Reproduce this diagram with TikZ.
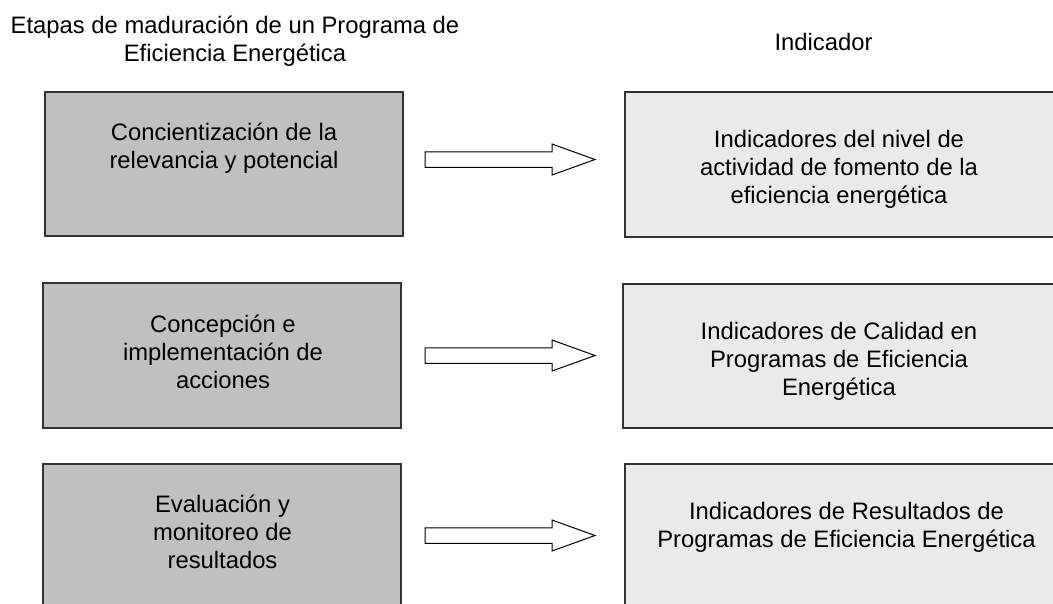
\documentclass[tikz,border=0pt]{standalone}
\usepackage{fontspec}
\setmainfont{Liberation Sans}
\usetikzlibrary{calc}
\definecolor{lfill}{HTML}{C0C0C0}
\definecolor{rfill}{HTML}{EAEAEA}
\definecolor{edge}{HTML}{333333}
\newcommand{\blockarr}[1]{%
  \draw[blockarrow] (#1) ++(0,-7.75) -- ++(127,0) -- ++(0,-7.75) -- ++(43,15.5)
    -- ++(-43,15.5) -- ++(0,-7.75) -- ++(-127,0) -- cycle;}
\begin{document}
\begin{tikzpicture}[x=1pt,y=-1pt,
  lbox/.style={draw=edge, line width=1.1pt, fill=lfill, rectangle, inner sep=0pt},
  rbox/.style={draw=edge, line width=1.1pt, fill=rfill, rectangle, inner sep=0pt},
  lbl/.style={align=center, inner sep=0pt, anchor=base, font=\fontsize{23.8}{28}\selectfont},
  blockarrow/.style={draw=black, line width=1pt, fill=white, line join=miter}]
\useasboundingbox (0,0) rectangle (1053,603);
\clip (0,0) rectangle (1053,603);
\fill[white] (0,0) rectangle (1053,603);
% titles (anchor base = baseline of last line)
\node[lbl] (t1) at (235,61) {Etapas de maduración de un Programa de\\Eficiencia Energética};
\node[lbl] (t2) at (823.5,50.5) {Indicador};
% left boxes
\node[lbox, minimum width=358pt, minimum height=144pt] (L1) at (224,164) {};
\node[lbox, minimum width=358pt, minimum height=145pt] (L2) at (222,355.5) {};
\node[lbox, minimum width=358pt, minimum height=176pt] (L3) at (222,552) {};
% right boxes
\node[rbox, minimum width=445pt, minimum height=145pt] (R1) at (847.5,164.5) {};
\node[rbox, minimum width=447pt, minimum height=144pt] (R2) at (846.5,356) {};
\node[rbox, minimum width=445pt, minimum height=176pt] (R3) at (847.5,552) {};
% texts
\node[lbl] (L1t) at (224,168) {Concientización de la\\relevancia y potencial};
\node[lbl] (L2t) at (223,388) {Concepción e\\implementación de\\acciones};
\node[lbl] (L3t) at (222.5,568) {Evaluación y\\monitoreo de\\resultados};
\node[lbl] (R1t) at (839,203) {Indicadores del nivel de\\actividad de fomento de la\\eficiencia energética};
\node[lbl] (R2t) at (839,395) {Indicadores de Calidad en\\Programas de Eficiencia\\Energética};
\node[lbl] (R3t) at (846.5,547) {Indicadores de Resultados de\\Programas de Eficiencia Energética};
% arrows
\coordinate (a1) at (425,159.5);
\coordinate (a2) at (425,355.5);
\coordinate (a3) at (425,535.5);
\blockarr{a1}
\blockarr{a2}
\blockarr{a3}
\end{tikzpicture}
\end{document}
